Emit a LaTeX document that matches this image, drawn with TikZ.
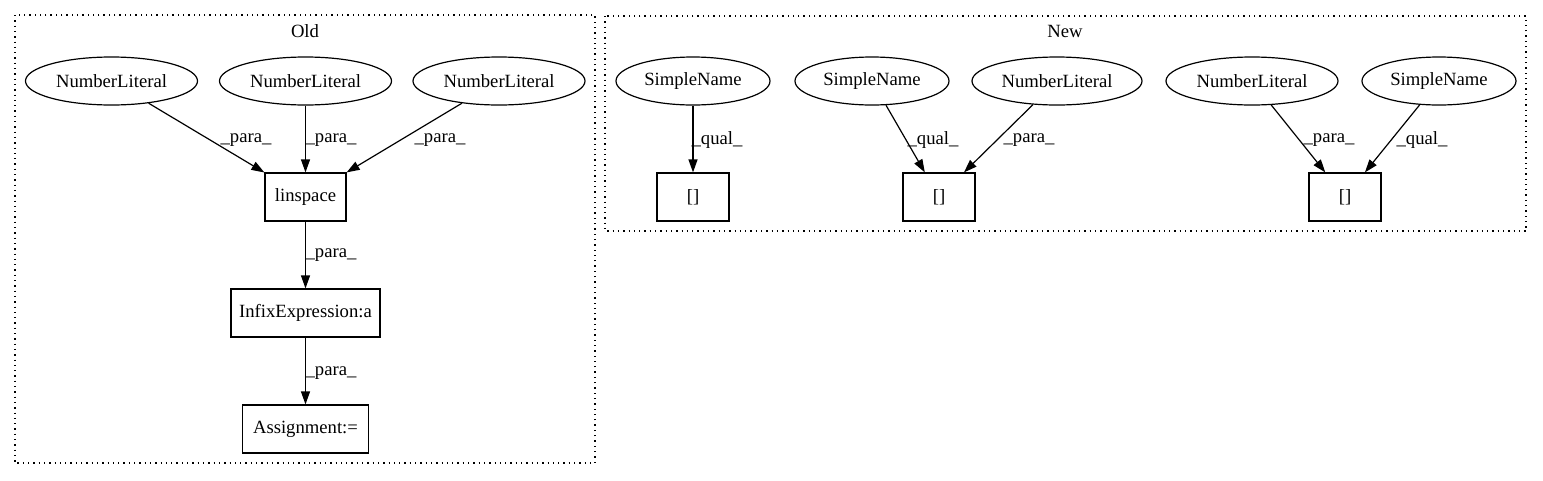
\documentclass[tikz,border=0pt]{standalone}
\usepackage{fontspec}
\setmainfont{Liberation Serif}
\usetikzlibrary{shapes.geometric,arrows.meta}
\begin{document}
\begin{tikzpicture}[x=1pt,y=-1pt,
  every node/.style={font=\fontsize{18.67}{22}\selectfont},
  ell/.style={draw, ellipse, line width=1.2pt, minimum width=172pt, minimum height=48pt, inner sep=0pt},
  box/.style={draw, rectangle, line width=1.2pt, minimum height=48pt, inner sep=0pt},
  edge/.style={-{Triangle[length=13pt,width=9pt]}, line width=1.2pt},
  elab/.style={inner sep=0pt},
  cluster/.style={dash pattern=on 1.3pt off 4pt, line width=1.3pt}]
\useasboundingbox (0,0) rectangle (1543,480);
% clusters
\draw[cluster] (15,15) rectangle (595,463);
\draw[cluster] (605,16) rectangle (1526,231);
\node (oldlab) at (305,31) {Old};
\node (newlab) at (1065,31) {New};
% Old nodes
\node[ell] (o1) at (111.5,81) {NumberLiteral};
\node[ell] (o2) at (305.5,81) {NumberLiteral};
\node[ell] (o3) at (499,81) {NumberLiteral};
\node[box, minimum width=81pt] (lin) at (305.5,197) {linspace};
\node[box, minimum width=149pt] (inf) at (305.5,313) {InfixExpression:a};
\node[box, minimum width=126pt] (asg) at (305.5,429) {Assignment:=};
% New nodes
\node[ell, minimum width=154pt] (s1) at (693,81) {SimpleName};
\node[box, minimum width=72pt] (b1) at (693,197) {[]};
\node[ell, minimum width=154pt] (s2) at (872,81) {SimpleName};
\node[ell, minimum width=170pt] (n1) at (1057,81) {NumberLiteral};
\node[box, minimum width=72pt] (b2) at (939,197) {[]};
\node[ell, minimum width=172pt] (n2) at (1252,81) {NumberLiteral};
\node[ell, minimum width=154pt] (s3) at (1439,81) {SimpleName};
\node[box, minimum width=72pt] (b3) at (1345,197) {[]};
% Old edges
\draw[edge] (o1) -- (lin);
\draw[edge] (o2) -- (lin);
\draw[edge] (o3) -- (lin);
\draw[edge] (lin) -- (inf);
\draw[edge] (inf) -- (asg);
\node[elab] (lo1) at (246,140) {\_para\_};
\node[elab] (lo2) at (331,140) {\_para\_};
\node[elab] (lo3) at (440,140) {\_para\_};
\node[elab] (lo4) at (331,255) {\_para\_};
\node[elab] (lo5) at (331,373) {\_para\_};
% New edges
\draw[edge] (s1) -- (b1);
\draw[edge] (s2) -- (b2);
\draw[edge] (n1) -- (b2);
\draw[edge] (n2) -- (b3);
\draw[edge] (s3) -- (b3);
\node[elab] (ln1) at (717,140) {\_qual\_};
\node[elab] (ln2) at (933,140) {\_qual\_};
\node[elab] (ln3) at (1029,140) {\_para\_};
\node[elab] (ln4) at (1329,140) {\_para\_};
\node[elab] (ln5) at (1422,140) {\_qual\_};
\end{tikzpicture}
\end{document}
